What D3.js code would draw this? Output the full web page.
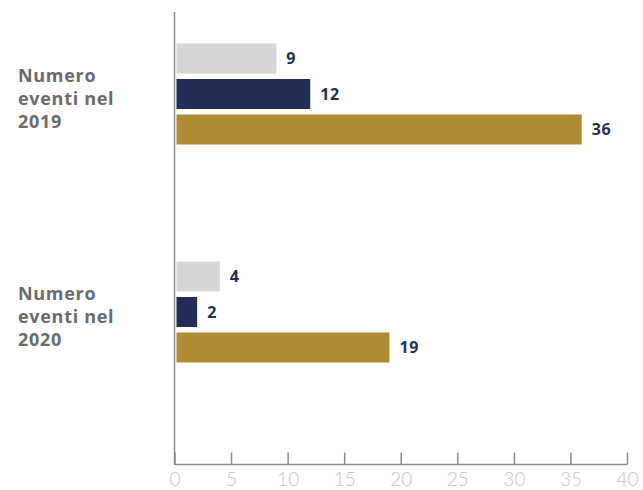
<!DOCTYPE html>
<html>
<head>
<meta charset="utf-8">
<script src="https://cdn.jsdelivr.net/npm/d3@7"></script>
<style>
  body { margin: 0; background: #fff; }
</style>
</head>
<body>
<svg id="drawing_region"></svg>
<script>
// data
const categories = ["Numero eventi nel 2019", "Numero eventi nel 2020"];
const categoryLines = [["Numero", "eventi nel", "2019"], ["Numero", "eventi nel", "2020"]];
const series = ["a", "b", "c"];
const valuesA = [9, 4];
const valuesB = [12, 2];
const valuesC = [36, 19];
const xTicks = [0, 5, 10, 15, 20, 25, 30, 35, 40];

const seriesColor = { a: "#d6d6d6", b: "#232e57", c: "#ae8b35" };
const seriesValues = { a: valuesA, b: valuesB, c: valuesC };

const width = 643, height = 490;
const svg = d3.select("#drawing_region").attr("width", width).attr("height", height);

const x = d3.scaleLinear().domain([0, 40]).range([174.5, 627]);

const y0 = d3.scaleBand().domain(categories).range([26, 462]);
const y1 = d3.scaleBand().domain(series).range([17.5, 118.5]).paddingInner(0.155);

const rows = [];
categories.forEach((c, i) => {
    series.forEach(s => rows.push({ cat: c, s: s, v: seriesValues[s][i] }));
});

// bars
svg.append("g").selectAll("rect")
    .data(rows)
    .enter()
    .append("rect")
    .attr("x", x(0) + 2)
    .attr("y", d => y0(d.cat) + y1(d.s))
    .attr("width", d => x(d.v) - x(0) - 2)
    .attr("height", y1.bandwidth())
    .attr("fill", d => seriesColor[d.s]);

// value labels
svg.append("g").selectAll("text")
    .data(rows)
    .enter()
    .append("text")
    .attr("x", d => x(d.v) + 10)
    .attr("y", d => y0(d.cat) + y1(d.s) + y1.bandwidth() / 2)
    .attr("dy", "0.36em")
    .attr("fill", "#232e57")
    .style("font-family", "'Open Sans', sans-serif")
    .style("font-weight", 700)
    .style("font-size", "16px")
    .style("letter-spacing", "0.6px")
    .text(d => d.v);

// x axis
const xAxis = svg.append("g")
    .attr("transform", `translate(0, 464.5)`)
    .call(d3.axisBottom(x).tickValues(xTicks).tickSize(-12).tickPadding(8));
xAxis.select(".domain").attr("d", `M${x(0)},0H${x(40)}`).attr("stroke", "#8a8a8a").attr("stroke-width", 1.5);
xAxis.selectAll(".tick line").attr("stroke", "#8a8a8a").attr("stroke-width", 1.5);
xAxis.selectAll(".tick text")
    .attr("fill", "#c4c4c4")
    .style("font-family", "Lato, sans-serif")
    .style("font-weight", 300)
    .style("font-size", "19px");

// y axis line
svg.append("line")
    .attr("x1", x(0)).attr("x2", x(0))
    .attr("y1", 12).attr("y2", 465)
    .attr("stroke", "#8a8a8a")
    .attr("stroke-width", 1.5);

// category labels
categories.forEach((c, i) => {
    const t = svg.append("text")
        .attr("x", 18)
        .attr("y", y0(c) + 56)
        .attr("fill", "#6b6b6b")
        .style("font-family", "'Open Sans', sans-serif")
        .style("font-weight", 700)
        .style("font-size", "18px")
        .style("letter-spacing", "0.7px");
    categoryLines[i].forEach((line, j) => {
        t.append("tspan").attr("x", 18).attr("dy", j === 0 ? 0 : 23).text(line);
    });
});
</script>
</body>
</html>
